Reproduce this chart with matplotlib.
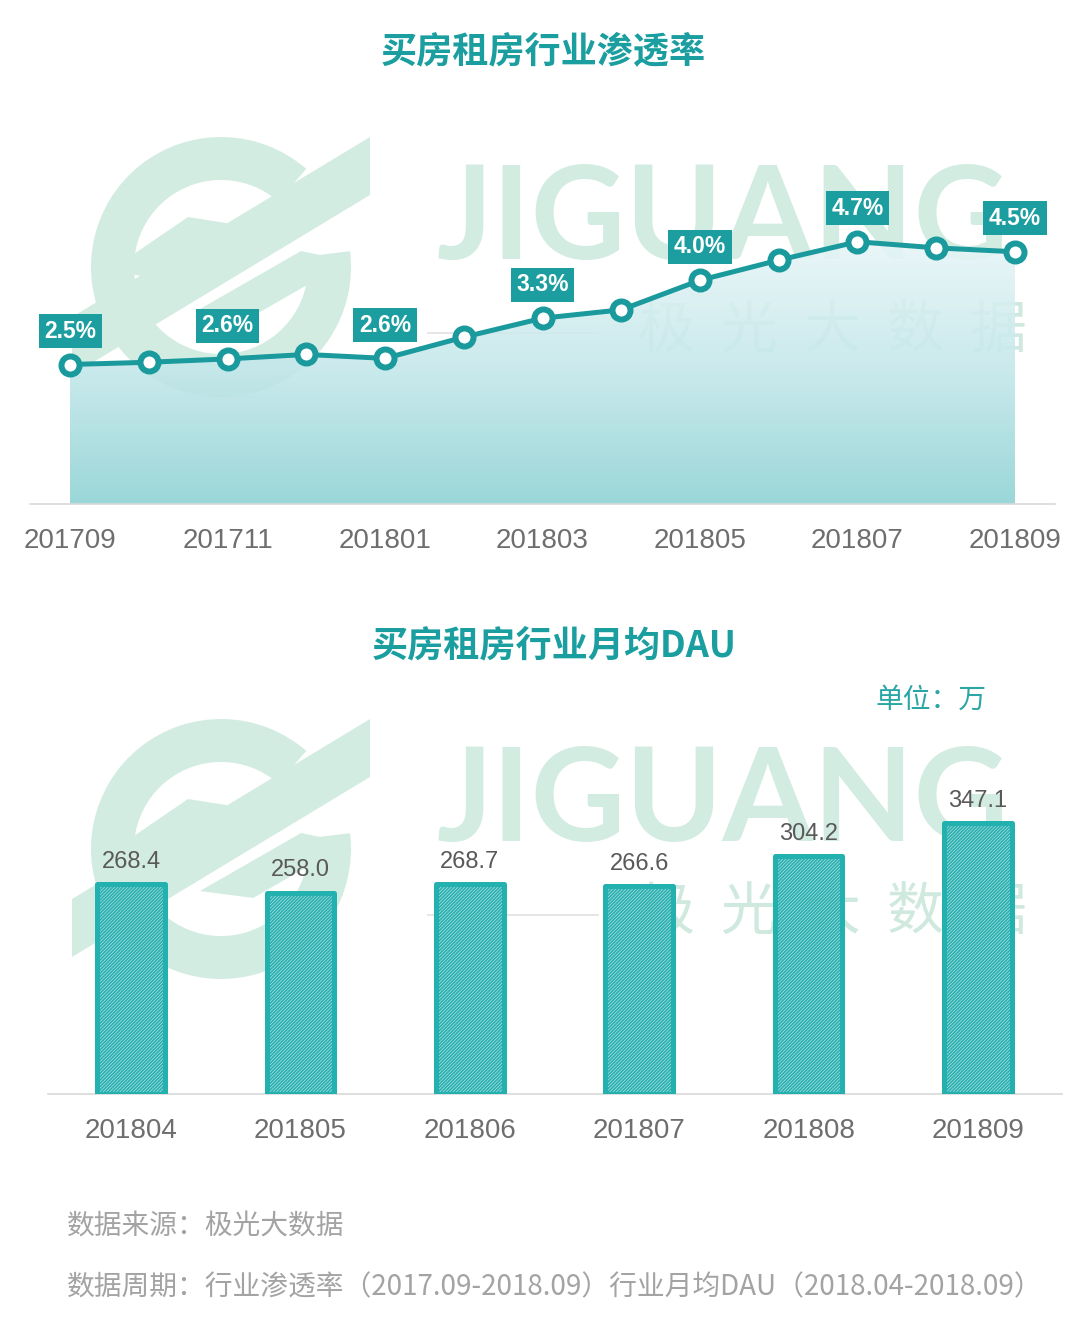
import numpy as np
import matplotlib
matplotlib.use('Agg')
import matplotlib.pyplot as plt
from matplotlib.patches import Wedge, Polygon
from matplotlib.colors import LinearSegmentedColormap
from matplotlib.transforms import Affine2D

# ---------------- data ----------------
months = ['201709', '201710', '201711', '201712', '201801', '201802', '201803',
          '201804', '201805', '201806', '201807', '201808', '201809']
penetration = [2.50, 2.54, 2.60, 2.68, 2.61, 2.99, 3.33, 3.48, 4.01, 4.37, 4.70, 4.59, 4.52]
labeled_idx = [0, 2, 4, 6, 8, 10, 12]

dau_months = ['201804', '201805', '201806', '201807', '201808', '201809']
dau = [268.4, 258.0, 268.7, 266.6, 304.2, 347.1]

title1 = '买房租房行业渗透率'
title2 = '买房租房行业月均DAU'
unit_text = '单位：万'
source_text = '数据来源：极光大数据'
period_text = '数据周期：行业渗透率（2017.09-2018.09）行业月均DAU（2018.04-2018.09）'

# ---------------- style ----------------
W, H = 1080, 1338
CJK = ['Noto Sans CJK SC', 'DejaVu Sans']
LAT = ['Liberation Sans', 'DejaVu Sans']
TEAL = '#1a9a9c'
BOX = '#1c9ea0'
TITLE = '#1b9e9f'
BAR_EDGE = '#22b1af'
GRAY_TICK = '#6e6e6e'
GRAY_VAL = '#595959'
WM = '#d3ece2'

plt.rcParams['hatch.linewidth'] = 1.3

fig = plt.figure(figsize=(W / 100, H / 100), dpi=100)
fig.patch.set_facecolor('white')


def fx(x):
    return x / W


def fy(y):
    return 1 - y / H


# pixel (y-up) transform for watermark shapes
pix = Affine2D().scale(1 / W, 1 / H) + fig.transFigure


def P(x, y_down):
    return (x, H - y_down)


def watermark(dy):
    cx, cy = 221, 267 + dy
    ring = Wedge(P(cx, cy), 130, 49, 367, width=43, transform=pix,
                 facecolor=WM, edgecolor='none', zorder=-2)
    fig.add_artist(ring)
    band = Polygon([P(cx - 149, cy + 50), P(cx - 149, cy + 108),
                    P(cx + 149, cy - 72), P(cx + 149, cy - 130)],
                   closed=True, transform=pix, facecolor=WM, edgecolor='none', zorder=-2)
    fig.add_artist(band)
    inner1 = Polygon([P(cx - 33, cy - 50), P(cx + 24, cy - 41),
                      P(cx - 60, cy + 12), P(cx - 112, cy + 4)],
                     closed=True, transform=pix, facecolor=WM, edgecolor='none', zorder=-2)
    fig.add_artist(inner1)
    inner2 = Polygon([P(cx - 21, cy + 42), P(cx + 32, cy + 49),
                      P(cx + 128, cy - 6), P(cx + 80, cy - 16)],
                     closed=True, transform=pix, facecolor=WM, edgecolor='none', zorder=-2)
    fig.add_artist(inner2)
    t = fig.text(fx(723), fy(222 + dy), 'JIGUANG', ha='center', va='center',
                 fontsize=100, fontweight='bold', family=['Lato', 'DejaVu Sans'],
                 color=WM, zorder=-2)
    fig.canvas.draw()
    bb = t.get_window_extent()
    t.set_fontsize(100 * 572 / bb.width)
    for k, ch in enumerate('极光大数据'):
        fig.text(fx(666 + k * 83), fy(331 + dy), ch, ha='center', va='center',
                 fontsize=41, family=CJK, color='#cfe9de', zorder=-2)
    fig.add_artist(plt.Line2D([fx(428), fx(598)], [fy(333 + dy), fy(333 + dy)],
                              transform=fig.transFigure, color='#e2e2e2', lw=1.2, zorder=-2))


watermark(0)
watermark(582)

# ---------------- top chart ----------------
ax1 = fig.add_axes([fx(30), fy(504), fx(1055) - fx(30), fy(150) - fy(504)])
ax1.set_facecolor('none')
x = np.arange(len(months))
fill = ax1.fill_between(x, penetration, 0, color='none', linewidth=0)
grad = np.linspace(0, 1, 256).reshape(-1, 1)
cmap = LinearSegmentedColormap.from_list('g', ['#8dd2d3', '#c3e7ea', '#e9f6f8'])
im = ax1.imshow(grad, extent=(0, len(months) - 1, 0, 4.8), origin='lower', cmap=cmap,
                aspect='auto', zorder=1, alpha=0.88, interpolation='bilinear')
im.set_clip_path(fill.get_paths()[0], transform=ax1.transData)

ax1.plot(x, penetration, color=TEAL, lw=3.6, marker='o', ms=13, mfc='white',
         mec=TEAL, mew=4.3, zorder=4, solid_joinstyle='round')
for i in labeled_idx:
    ax1.annotate(f'{penetration[i]:.1f}%', (x[i], penetration[i]), xytext=(0, 24),
                 textcoords='offset points', ha='center', va='center', fontsize=16.5,
                 fontweight='bold', color='white', family=LAT, zorder=6,
                 bbox=dict(boxstyle='square,pad=0.24', fc=BOX, ec='none'))

ax1.set_xlim(-0.508, len(months) - 1 + 0.508)
ax1.set_ylim(0, 354 / 55.8)
ax1.set_xticks(x[::2])
ax1.set_xticklabels(months[::2], fontsize=20, color=GRAY_TICK, family=LAT)
ax1.tick_params(axis='x', length=0, pad=17)
ax1.set_yticks([])
for s in ['left', 'right', 'top']:
    ax1.spines[s].set_visible(False)
ax1.spines['bottom'].set_color('#d9d9d9')
ax1.spines['bottom'].set_linewidth(1.2)

# ---------------- bottom chart ----------------
ax2 = fig.add_axes([fx(48), fy(1094), fx(1062) - fx(48), fy(700) - fy(1094)])
ax2.set_facecolor('none')
xb = np.arange(len(dau_months))
ax2.bar(xb, dau, width=0.4, facecolor=(0.74, 0.91, 0.92, 0.8), edgecolor='#2cb0b0',
        hatch='//////////', linewidth=0, zorder=2)
ax2.bar(xb, dau, width=0.4, fill=False, edgecolor=BAR_EDGE, linewidth=3.6,
        joinstyle='round', zorder=3)
for xi, v in zip(xb, dau):
    ax2.annotate(f'{v:.1f}', (xi, v), xytext=(0, 8), textcoords='offset points',
                 ha='center', va='bottom', fontsize=17, color=GRAY_VAL, family=LAT, zorder=5)
ax2.set_xlim(-0.49, len(dau_months) - 1 + 0.496)
ax2.set_ylim(0, 394 / 0.781)
ax2.set_xticks(xb)
ax2.set_xticklabels(dau_months, fontsize=20, color=GRAY_TICK, family=LAT)
ax2.tick_params(axis='x', length=0, pad=17)
ax2.set_yticks([])
for s in ['left', 'right', 'top']:
    ax2.spines[s].set_visible(False)
ax2.spines['bottom'].set_color('#d9d9d9')
ax2.spines['bottom'].set_linewidth(1.2)

# ---------------- texts ----------------
fig.text(fx(543), fy(52), title1, ha='center', va='center', fontsize=26,
         fontweight='bold', family=CJK, color=TITLE)
fig.text(fx(554), fy(646), title2, ha='center', va='center', fontsize=26,
         fontweight='bold', family=CJK, color=TITLE)
fig.text(fx(931), fy(700), unit_text, ha='center', va='center', fontsize=20,
         style='italic', family=CJK, color='#2aa6a4')
fig.text(fx(67), fy(1226), source_text, ha='left', va='center', fontsize=20,
         style='italic', family=CJK, color='#a3a3a3')
fig.text(fx(67), fy(1287), period_text, ha='left', va='center', fontsize=20,
         style='italic', family=CJK, color='#a3a3a3')

fig.savefig('out.png', dpi=100, facecolor='white')
